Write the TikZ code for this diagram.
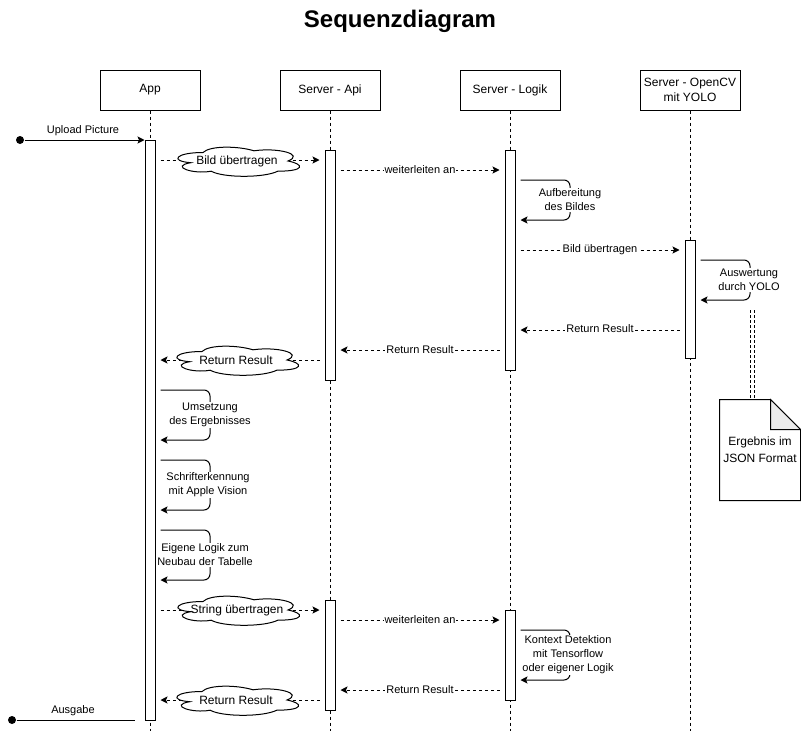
\documentclass[tikz,border=0pt]{standalone}
\usepackage{fontspec}
\setmainfont{Liberation Sans}
\usetikzlibrary{arrows.meta,calc}

% cloud outline used for the message labels on the App <-> Server-Api calls
\tikzset{
  pics/msgcloud/.style={code={
    \draw[fill=white, line width=1pt, x=136pt, y=-34pt, shift={(-0.5,-0.5)}]
      (0.25,0.25) .. controls (0.05,0.25) and (0,0.5) .. (0.16,0.55)
      .. controls (0,0.66) and (0.18,0.9) .. (0.31,0.8)
      .. controls (0.4,1) and (0.7,1) .. (0.8,0.8)
      .. controls (1,0.8) and (1,0.6) .. (0.875,0.5)
      .. controls (1,0.3) and (0.8,0.1) .. (0.625,0.2)
      .. controls (0.5,0.05) and (0.3,0.05) .. (0.25,0.25) -- cycle;
  }}
}

\begin{document}
\begin{tikzpicture}[x=1pt, y=-1pt, line width=1pt,
  every node/.style={font=\fontsize{11}{14}\selectfont},
  header/.style={draw, fill=white, minimum width=100pt, minimum height=40pt,
    align=center, inner sep=1pt, font=\fontsize{12}{15}\selectfont},
  lifeline/.style={line width=0.9pt, dash pattern=on 3pt off 3pt},
  actbar/.style={draw, fill=white, minimum width=10pt, inner sep=0pt},
  tip/.style={-{Stealth[length=7pt, width=7pt, inset=1.5pt]}},
  call/.style={tip, dash pattern=on 3pt off 3pt, shorten <=5pt, shorten >=5pt},
  selfcall/.style={tip, rounded corners=6pt},
  msglabel/.style={fill=white, inner sep=1pt},
  selflabel/.style={fill=white, inner sep=1pt, align=center},
  cloudtext/.style={inner sep=1pt, font=\fontsize{12}{14}\selectfont},
  dot/.style={circle, fill=black, inner sep=0pt, minimum size=8pt},
  notelink/.style={line width=0.7pt, dash pattern=on 3pt off 2pt},
]
\useasboundingbox (0,0) rectangle (801,731);

% title
\node[font=\bfseries\fontsize{24}{28}\selectfont] (title) at (400,21) {Sequenzdiagram};

% participants
\node[header] (app) at (150,90) {App};
\node[header] (api) at (330,90) {Server - Api};
\node[header] (log) at (510,90) {Server - Logik};
\node[header] (cv)  at (690,90) {Server - OpenCV\\mit YOLO};

% lifelines
\foreach \p in {app,api,log,cv}
  \draw[lifeline] (\p.south) -- (\p.south |- 0,731);

% activation bars
\node[actbar, minimum height=580pt] (appA) at (150,430) {};
\node[actbar, minimum height=230pt] (apiA) at (330,265) {};
\node[actbar, minimum height=110pt] (apiB) at (330,655) {};
\node[actbar, minimum height=220pt] (logA) at (510,260) {};
\node[actbar, minimum height=90pt]  (logB) at (510,655) {};
\node[actbar, minimum height=118pt] (cvA)  at (690,299) {};

% incoming picture
\node[dot] (start) at (20,140) {};
\draw[tip] (start) -- (appA.west |- 0,140);
\node (lupload) at (83,131) {Upload Picture};

% App -> Server-Api
\draw[call] (appA.east |- 0,160) -- (apiA.west |- 0,160);
\pic at (237,161) {msgcloud};
\node[cloudtext] (c1) at (237,161) {Bild übertragen};

% Server-Api -> Server-Logik
\draw[call] (apiA.east |- 0,170) -- (logA.west |- 0,170);
\node[msglabel] (l1) at (420,170) {weiterleiten an};

% preprocessing
\draw[selfcall] ($(logA.east |- 0,180)+(5,0)$) -| (570,220) -- ($(logA.east |- 0,220)+(5,0)$);
\node[selflabel] (s1) at (570,200) {Aufbereitung\\des Bildes};

% Server-Logik -> OpenCV
\draw[call] (logA.east |- 0,250) -- (cvA.west |- 0,250);
\node[msglabel] (l2) at (600,250) {Bild übertragen};

% YOLO evaluation
\draw[selfcall] ($(cvA.east |- 0,260)+(5,0)$) -| (750,300) -- ($(cvA.east |- 0,300)+(5,0)$);
\node[selflabel] (s2) at (749,280) {Auswertung\\durch YOLO};

% results back
\draw[call] (cvA.west |- 0,330) -- (logA.east |- 0,330);
\node[msglabel] (l3) at (600,329) {Return Result};
\draw[call] (logA.west |- 0,350) -- (apiA.east |- 0,350);
\node[msglabel] (l4) at (420,350) {Return Result};
\draw[call] (apiA.west |- 0,360) -- (appA.east |- 0,360);
\pic at (236,360) {msgcloud};
\node[cloudtext] (c2) at (236,360) {Return Result};

% processing inside the app
\draw[selfcall] ($(appA.east |- 0,390)+(5,0)$) -| (210,440) -- ($(appA.east |- 0,440)+(5,0)$);
\node[selflabel] (s3) at (210,415) {Umsetzung\\des Ergebnisses};
\draw[selfcall] ($(appA.east |- 0,460)+(5,0)$) -| (210,510) -- ($(appA.east |- 0,510)+(5,0)$);
\node[selflabel] (s4) at (208,485) {Schrifterkennung\\mit Apple Vision};
\draw[selfcall] ($(appA.east |- 0,530)+(5,0)$) -| (210,580) -- ($(appA.east |- 0,580)+(5,0)$);
\node[selflabel] (s5) at (205,555) {Eigene Logik zum\\Neubau der Tabelle};

% second round trip
\draw[call] (appA.east |- 0,610) -- (apiB.west |- 0,610);
\pic at (237,610) {msgcloud};
\node[cloudtext] (c3) at (237,610) {String übertragen};
\draw[call] (apiB.east |- 0,620) -- (logB.west |- 0,620);
\node[msglabel] (l5) at (420,620) {weiterleiten an};
\draw[selfcall] ($(logB.east |- 0,630)+(5,0)$) -| (570,680) -- ($(logB.east |- 0,680)+(5,0)$);
\node[selflabel] (s6) at (568,655) {Kontext Detektion\\mit Tensorflow\\oder eigener Logik};
\draw[call] (logB.west |- 0,690) -- (apiB.east |- 0,690);
\node[msglabel] (l6) at (420,690) {Return Result};
\draw[call] (apiB.west |- 0,700) -- (appA.east |- 0,700);
\pic at (236,700) {msgcloud};
\node[cloudtext] (c4) at (236,700) {Return Result};

% output
\node[dot] (stop) at (12,720) {};
\coordinate (outend) at (135,720);
\draw (stop) -- (outend);
\node (lout) at (73,711) {Ausgabe};

% note with folded corner
\node[minimum width=80pt, minimum height=100pt, inner sep=0pt, align=center,
      font=\fontsize{12}{17}\selectfont] (note) at (760,450) {Ergebnis im\\JSON Format};
\draw (note.north west) -- ($(note.north east)+(-30,0)$) -- ($(note.north east)+(0,30)$)
  -- (note.south east) -- (note.south west) -- cycle;
\draw[fill=black!8] ($(note.north east)+(-30,0)$) -- ($(note.north east)+(-30,30)$)
  -- ($(note.north east)+(0,30)$) -- cycle;
% link from the evaluation to the note, drawn as a double dashed line
\coordinate (linkA) at (750,310);
\coordinate (linkB) at (754,310);
\draw[notelink] (linkA) -- (linkA |- note.north);
\draw[notelink] (linkB) -- (linkB |- note.north);
\end{tikzpicture}
\end{document}
